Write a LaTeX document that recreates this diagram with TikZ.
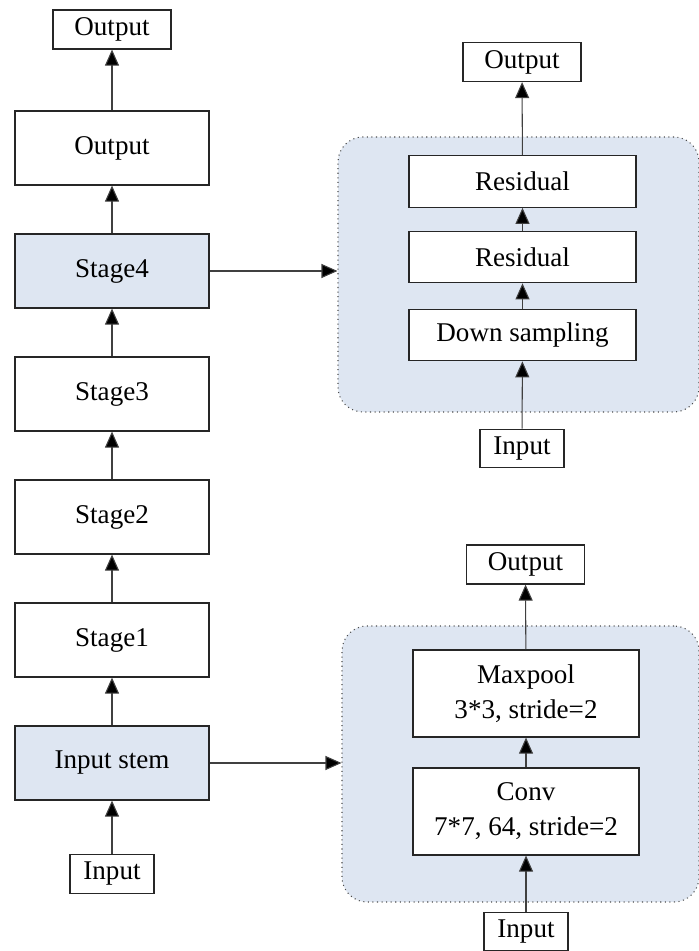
\documentclass[tikz,border=0pt]{standalone}
\usepackage{fontspec}
\setmainfont{Liberation Serif}
\usetikzlibrary{arrows.meta}
\definecolor{stemblue}{RGB}{222,230,242}

\begin{document}
\begin{tikzpicture}[
    font=\fontsize{15.4}{19.9}\selectfont,
    blk/.style={draw=black!85, line width=0.7pt, fill=white, inner sep=0pt,
      minimum width=3.88cm, minimum height=1.48cm, align=center},
    small/.style={blk, minimum width=2.36cm, minimum height=0.78cm},
    tiny/.style={blk, minimum width=1.68cm, minimum height=0.77cm},
    sub/.style={blk, minimum width=4.54cm, minimum height=1.03cm},
    sub2/.style={blk, minimum width=4.52cm, minimum height=1.74cm},
    panel/.style={draw=black!70, dotted, line width=0.6pt, fill=stemblue,
      rounded corners=0.5cm, inner sep=0pt},
    arr/.style={draw=black!75, line width=0.6pt,
      -{Triangle[width=0.28cm,length=0.32cm,fill=black]}}
  ]
  \useasboundingbox (0,0) rectangle (13.98,19.02);

  % right hand panels
  \node[panel, minimum width=7.22cm, minimum height=5.5cm] (grp1) at (10.37,13.53) {};
  \node[panel, minimum width=7.14cm, minimum height=5.52cm] (grp2) at (10.41,3.74) {};

  % main column
  \node[small] (top) at (2.24,18.43) {Output};
  \node[blk] (out) at (2.24,16.06) {Output};
  \node[blk, fill=stemblue] (stage4) at (2.24,13.6) {Stage4};
  \node[blk] (stage3) at (2.24,11.14) {Stage3};
  \node[blk] (stage2) at (2.24,8.68) {Stage2};
  \node[blk] (stage1) at (2.24,6.22) {Stage1};
  \node[blk, fill=stemblue] (stem) at (2.24,3.76) {Input stem};
  \node[tiny] (in) at (2.24,1.54) {Input};

  \draw[arr] (in) -- (stem);
  \draw[arr] (stem) -- (stage1);
  \draw[arr] (stage1) -- (stage2);
  \draw[arr] (stage2) -- (stage3);
  \draw[arr] (stage3) -- (stage4);
  \draw[arr] (stage4) -- (out);
  \draw[arr] (out) -- (top);

  % stage block
  \node[small] (sout) at (10.44,17.78) {Output};
  \node[sub] (res1) at (10.45,15.39) {Residual};
  \node[sub] (res2) at (10.45,13.88) {Residual};
  \node[sub] (down) at (10.45,12.32) {Down sampling};
  \node[tiny] (sin) at (10.44,10.05) {Input};

  \draw[arr] (sin) -- (down);
  \draw[arr] (down) -- (res2);
  \draw[arr] (res2) -- (res1);
  \draw[arr] (res1) -- (sout);

  % stem block
  \node[small] (tout) at (10.51,7.73) {Output};
  \node[sub2] (pool) at (10.52,5.15) {Maxpool\\3*3, stride=2};
  \node[sub2] (conv) at (10.52,2.79) {Conv\\7*7, 64, stride=2};
  \node[tiny] (tin) at (10.52,0.39) {Input};

  \draw[arr] (tin) -- (conv);
  \draw[arr] (conv) -- (pool);
  \draw[arr] (pool) -- (tout);

  \draw[arr] (stage4) -- (stage4 -| grp1.west);
  \draw[arr] (stem) -- (stem -| grp2.west);
\end{tikzpicture}
\end{document}
